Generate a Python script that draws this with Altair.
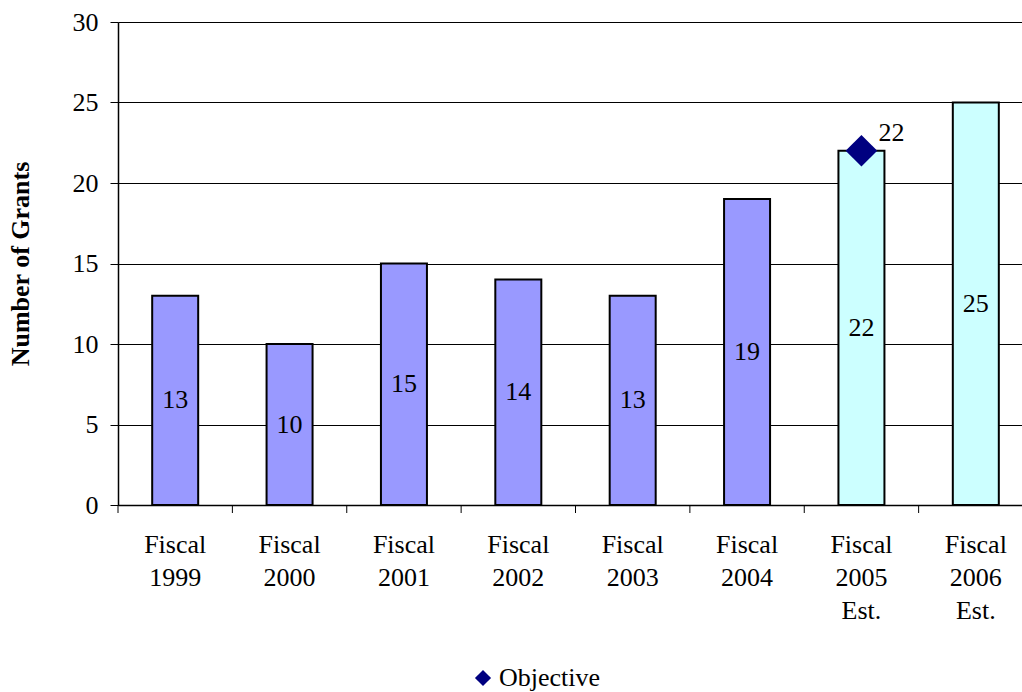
import altair as alt
import pandas as pd

categories = ["Fiscal 1999", "Fiscal 2000", "Fiscal 2001", "Fiscal 2002",
              "Fiscal 2003", "Fiscal 2004", "Fiscal 2005 Est.", "Fiscal 2006 Est."]
grants = [13, 10, 15, 14, 13, 19, 22, 25]
kinds = ["Actual", "Actual", "Actual", "Actual", "Actual", "Actual", "Estimate", "Estimate"]
objective_cat = ["Fiscal 2005 Est."]
objective_val = [22]

FONT = "Liberation Serif"
FS = 26

bars_df = pd.DataFrame({"cat": categories, "value": grants, "kind": kinds})
obj_df = pd.DataFrame({"cat": objective_cat, "value": objective_val, "series": ["Objective"]})

x_enc = alt.X("cat:N", sort=categories, title=None,
              scale=alt.Scale(paddingInner=0, paddingOuter=0, range=[0, 915]),
              axis=alt.Axis(labelExpr="split(datum.label, ' ')", labelAngle=0,
                            ticks=False, labelFontSize=FS, labelFont=FONT,
                            labelColor="black", labelPadding=26, labelLineHeight=33,
                            domainColor="black", domainWidth=1.5, grid=False))
y_scale = alt.Scale(domain=[0, 30], nice=False)

bars = alt.Chart(bars_df).mark_bar(width=46, stroke="black", strokeWidth=2).encode(
    x=x_enc,
    y=alt.Y("value:Q", scale=y_scale, title="Number of Grants",
            axis=alt.Axis(values=[0, 5, 10, 15, 20, 25, 30], tickSize=8, tickColor="black",
                          labelFontSize=FS, labelFont=FONT, labelColor="black",
                          labelPadding=12, domainColor="black", domainWidth=1.5,
                          gridColor="black", gridWidth=1,
                          titleFont=FONT, titleFontSize=FS, titleFontWeight="bold",
                          titleColor="black", titlePadding=39)),
    color=alt.Color("kind:N", scale=alt.Scale(domain=["Actual", "Estimate"],
                                              range=["#9999FF", "#CCFFFF"]), legend=None),
)

labels = alt.Chart(bars_df).transform_calculate(mid="datum.value / 2").mark_text(
    font=FONT, fontSize=FS, color="black", baseline="middle").encode(
    x=alt.X("cat:N", sort=categories),
    y=alt.Y("mid:Q", scale=y_scale),
    text=alt.Text("value:Q"),
)

ticks = alt.Chart(bars_df).mark_rule(color="black", strokeWidth=1).encode(
    x=alt.X("cat:N", sort=categories, bandPosition=0),
    y=alt.value(483), y2=alt.value(491),
)

points = alt.Chart(obj_df).mark_point(shape="diamond", filled=True, size=1000, opacity=1).encode(
    x=alt.X("cat:N", sort=categories),
    y=alt.Y("value:Q", scale=y_scale),
    color=alt.Color("series:N", scale=alt.Scale(range=["#000080"]), title=None,
                    legend=alt.Legend(orient="none", legendX=352, legendY=643,
                                      symbolType="diamond", symbolSize=260,
                                      labelFont=FONT, labelFontSize=FS, labelColor="black",
                                      labelOffset=3, padding=0)),
)

obj_label = alt.Chart(obj_df).mark_text(font=FONT, fontSize=FS, color="black",
                                        align="left", baseline="middle", dx=17, dy=-18).encode(
    x=alt.X("cat:N", sort=categories),
    y=alt.Y("value:Q", scale=y_scale),
    text=alt.Text("value:Q"),
)

chart = alt.layer(bars, ticks, labels, points, obj_label).resolve_scale(
    color="independent"
).properties(
    width=904, height=483,
    autosize=alt.AutoSizeParams(type="none"),
    padding={"left": 118, "top": 22, "right": 0, "bottom": 187},
).configure_view(stroke=None).configure(background="white")

chart.save("out.html", embed_options={"renderer": "svg", "actions": False})
